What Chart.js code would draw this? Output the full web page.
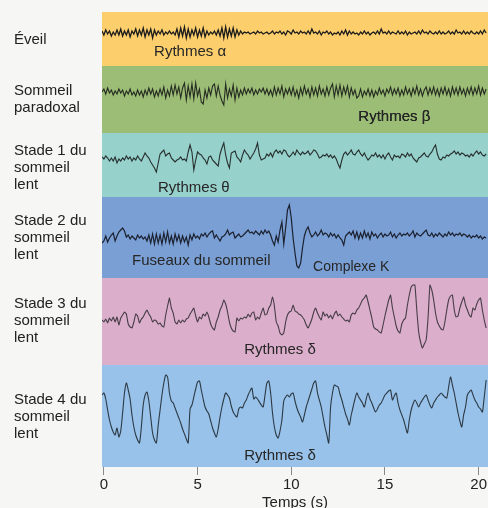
<!DOCTYPE html>
<html lang="fr">
<head>
<meta charset="UTF-8">
<title>Stades du sommeil – EEG</title>
<style>
  html, body { margin: 0; padding: 0; background: #f6f6f4; }
  #wrap { width: 488px; height: 508px; }
</style>
</head>
<body>
<div id="wrap"><canvas id="eeg" width="488" height="508"></canvas></div>

<script src="https://cdn.jsdelivr.net/npm/chart.js"></script>
<script>
// sampling of the traces (s)
const T0 = -0.1, DT = 0.1;
const X_TICKS = [0, 5, 10, 15, 20];

const ROW_LABELS = [
  'Éveil',
  ['Sommeil', 'paradoxal'],
  ['Stade 1 du', 'sommeil', 'lent'],
  ['Stade 2 du', 'sommeil', 'lent'],
  ['Stade 3 du', 'sommeil', 'lent'],
  ['Stade 4 du', 'sommeil', 'lent']
];

// amplitudes, one value every 0.1 s from -0.1 s
const EVEIL = [
  2,-2,3,-1,2,-3,1,-2,3,-2,  4,-3,2,-2,3,-4,2,-1,4,-3,
  3,-2,5,-4,3,-2,4,-5,3,-2,  2,-1,3,-2,1,-1,2,-1,1,-2,
  4,-4,5,-3,6,-5,4,-4,3,-2,  5,-4,3,-3,5,-4,2,-2,1,-1,
  2,-2,3,-3,5,-5,6,-4,4,-3,  5,-4,3,-2,2,-1,1,0,1,-1,
  0,1,-1,2,0,1,-1,0,1,-1,    0,2,-1,1,0,2,-1,1,-2,2,
  1,-1,3,0,1,-1,2,0,1,-1,    2,-1,4,0,1,-1,2,-2,1,0,
  2,-1,1,-2,0,-1,1,-2,2,-1,  3,-2,2,-1,1,-1,0,-2,1,-1,
  2,-1,1,-2,0,1,-1,2,-1,4,   0,1,-1,2,-1,1,0,-1,2,-1,
  1,-1,2,-2,1,-1,0,1,-1,2,   -1,3,0,1,-1,2,0,-1,1,-1,
  2,-1,1,-1,0,2,-1,1,-1,3,   0,1,-1,2,-1,1,-1,2,0,-1,
  1,-1,2,-1,3,0
];

const PARADOXAL = [
  0,3,-2,4,-1,2,-3,1,-2,3,    -1,2,-4,1,-2,3,-3,0,-4,2,
  -3,1,-5,2,-3,4,-2,3,-5,1,   -4,3,-3,5,-6,2,-4,6,-3,7,
  -2,5,-6,4,9,-8,6,-5,8,-7,   9,-4,3,-10,-12,2,-6,4,-3,6,
  8,-4,6,-3,-9,-13,8,-6,3,-4, 7,-8,4,-5,2,-3,4,-2,3,-1,
  4,-3,2,-2,3,0,4,-2,3,-3,    2,-4,5,-3,4,-2,6,-5,3,-2,
  4,-3,5,-4,2,-6,4,-3,6,-2,   3,-5,5,-3,4,-4,6,-2,3,-4,
  5,-3,4,8,-5,6,-3,7,-4,5,    -2,6,-5,4,-3,2,-6,-4,3,-5,
  1,-3,3,-4,2,-5,1,-3,4,-2,   2,-4,3,-1,5,-3,3,-2,4,-4,
  2,-3,5,-2,3,-4,4,-2,6,-3,   3,-4,2,5,-3,4,-2,5,-3,3,
  -4,4,-2,5,-3,3,-4,5,-2,4,   -3,5,-2,3,-4,4,-2,5,-3,4,
  -2,6,-3,4,-2,3
];

const STADE1 = [
  3,1,4,2,-1,2,-1,3,-3,1,     -1,2,0,4,1,3,-1,2,0,4,
  1,-1,3,7,4,2,-2,-5,-8,-12,  -3,6,8,10,4,6,7,2,0,-2,
  0,1,3,0,1,-1,8,15,8,-10,    0,8,6,5,2,0,-4,3,4,0,
  -2,-4,-6,6,12,17,5,-3,-8,7, 8,9,3,1,-2,5,10,7,5,1,
  4,7,11,17,5,0,1,2,6,4,      7,3,8,10,7,9,6,10,9,5,
  3,5,8,5,10,7,5,8,6,7,       9,5,7,10,9,6,2,3,5,4,
  6,3,5,2,4,1,-4,-8,0,6,      8,5,7,10,6,5,8,10,6,4,
  7,3,0,2,5,4,7,3,5,2,        5,1,5,7,3,0,5,3,4,2,
  6,5,3,7,4,6,2,0,-2,2,       3,5,7,4,3,6,8,12,15,6,
  1,0,3,2,5,4,6,7,9,6,        8,5,7,6,4,5,3,6,4,7,
  9,6,8,5,4,6
];

const STADE2 = [
  -5,-3,2,-4,0,3,5,-3,2,6,    8,10,7,1,3,-1,2,0,-2,3,
  0,2,-1,1,-3,3,-5,4,-6,4,    -5,3,-6,5,-4,6,-5,2,-6,4,
  -3,3,-5,2,-4,1,-7,3,-2,4,   0,2,-1,4,2,5,1,4,6,7,
  0,3,0,-3,1,2,4,8,3,5,       6,0,2,4,1,2,4,6,8,5,
  6,4,7,5,3,7,4,8,5,7,        3,-3,-7,2,-4,8,16,-6,10,28,
  33,20,0,-15,-28,-30,-25,-10,2,8,  11,5,1,3,6,2,4,8,3,5,
  4,1,5,2,4,0,3,0,-2,-7,      2,4,6,3,7,0,6,-1,5,0,
  7,1,5,-1,6,2,4,0,3,5,       1,4,2,3,6,1,4,0,3,5,
  2,4,3,5,2,4,7,1,5,3,        2,4,6,8,3,2,5,1,4,2,
  5,3,1,4,2,6,3,5,2,4,        3,5,2,4,3,1,3,0,2,1,
  3,0,2,-1,1,0
];

const STADE3 = [
  0,-2,1,-3,2,-1,3,-2,3,-5,      2,5,8,6,-4,-7,-8,-2,6,4,
  -3,1,3,7,10,6,3,-2,0,-1,       -4,-3,-6,-7,5,14,22,12,7,-2,
  -4,0,-3,0,-2,1,2,6,9,12,       4,-2,3,1,6,4,8,3,-4,-8,
  -10,-2,3,10,14,20,16,8,-2,-8,  -11,-12,2,-1,2,1,3,2,6,3,
  7,8,0,3,1,7,12,5,6,12,         15,23,14,-2,-6,-13,-15,-13,-2,5,
  8,9,15,9,8,6,5,3,0,-5,         -8,-4,1,8,12,7,3,0,8,4,
  6,2,5,1,6,9,4,6,3,1,           -1,0,-2,5,7,6,10,12,16,20,
  22,25,18,10,2,-7,-9,-10,-12,-13,  -5,4,12,20,25,12,3,-6,-11,-13,
  -4,0,2,15,25,33,35,35,10,-12,  -22,-28,-24,-20,2,35,30,20,7,-2,
  -6,-9,-10,-2,10,20,24,25,10,3, 4,12,18,23,15,10,5,3,12,10,
  16,20,22,10,0,-8
];

const STADE4 = [
  10,12,6,-5,-15,-22,-27,-30,-23,-32,   -26,-8,12,22,15,6,-10,-22,-30,-35,
  -38,-22,0,10,13,4,-12,-28,-35,-38,    -20,-5,10,22,30,28,12,4,2,-3,
  -8,-13,-18,-24,-29,-34,-38,-4,0,8,    16,23,24,15,6,-2,-6,-9,-16,-23,
  -28,-32,-24,-12,-2,6,12,10,7,-1,      -7,-10,-12,-4,-2,-3,2,5,10,14,
  17,6,8,6,3,0,-2,10,22,24,             12,-8,-22,-30,-33,-26,-15,4,8,10,
  8,11,12,4,-3,-8,-12,-17,-10,-2,       4,10,16,22,24,12,5,-2,-12,-22,
  -30,-38,-2,12,20,19,18,11,5,-2,       -9,-14,-20,-10,-2,6,12,8,5,2,
  -2,6,12,6,2,-3,-7,-4,0,2,             6,10,12,14,15,5,9,12,2,-5,
  -10,-15,-22,-28,-15,-5,1,5,2,-2,      2,5,8,10,5,0,-3,2,5,8,
  10,12,10,8,7,18,28,20,12,2,           -8,-16,-22,-10,-2,10,13,15,10,5,
  2,-2,-4,-7,8,25
];

const TRACES = [EVEIL, PARADOXAL, STADE1, STADE2, STADE3, STADE4];

const NOTE_TEXT = ['Rythmes α', 'Rythmes β', 'Rythmes β', 'Rythmes θ',
  'Fuseaux du sommeil', 'Complexe K', 'Rythmes δ', 'Rythmes δ'];

// layout (y in pixels above the plot bottom)
const BASELINE = [434, 375, 307, 229, 147, 62];
const LABEL_Y = [427, 368, 299, 229, 146, 50];
const BAND_EDGES = [455, 401, 334, 270, 189, 102, 0];
const BAND_COLORS = ['#fccf6c', '#9bbd75', '#97d1cb', '#7a9fd4', '#dbaecb', '#98c2e9'];
const LINE_COLORS = ['#1c1c1c', '#262b22', '#27302f', '#1c2130', '#463d46', '#2c3945'];
const LINE_WIDTHS = [1.3, 1.1, 1.1, 1.2, 1.1, 1.1];
const LINE_TENSION = [0, 0, 0, 0, 0.1, 0.25];
const NOTE_T = [4.6, 15.5, 15.5, 4.8, 5.2, 13.2, 9.4, 9.4];
const NOTE_Y = [415, 350, 350, 279, 206, 200, 117, 11];
const NOTE_SIZE = [15, 15, 15, 15, 15, 14, 15, 15];

const FONT = '"Liberation Sans", Arial, Helvetica, sans-serif';

const bands = {
  id: 'bands',
  beforeDatasetsDraw(chart) {
    const { ctx, chartArea: a, scales: { y } } = chart;
    ctx.save();
    BAND_COLORS.forEach((c, i) => {
      const top = y.getPixelForValue(BAND_EDGES[i]);
      const bot = y.getPixelForValue(BAND_EDGES[i + 1]);
      ctx.fillStyle = c;
      ctx.fillRect(a.left, top, a.right - a.left, bot - top);
    });
    ctx.restore();
  }
};

const notes = {
  id: 'notes',
  afterDatasetsDraw(chart) {
    const { ctx, scales: { x, y } } = chart;
    ctx.save();
    ctx.fillStyle = '#262626';
    ctx.textAlign = 'center';
    ctx.textBaseline = 'middle';
    NOTE_TEXT.forEach((t, i) => {
      ctx.font = NOTE_SIZE[i] + 'px ' + FONT;
      ctx.fillText(t, x.getPixelForValue(NOTE_T[i]), y.getPixelForValue(NOTE_Y[i]));
    });
    ctx.restore();
  }
};

// the row labels sit inside the plot height, so drop the edge padding the scale asks for
function noEdgePadding(s) {
  s.paddingTop = 0;
  s.paddingBottom = 0;
  s.paddingLeft = 0;
  s.paddingRight = 0;
}

new Chart(document.getElementById('eeg'), {
  type: 'line',
  data: {
    datasets: TRACES.map((tr, k) => ({
      label: 'trace' + k,
      data: tr.map((v, i) => ({ x: T0 + i * DT, y: BASELINE[k] + v })),
      borderColor: LINE_COLORS[k],
      borderWidth: LINE_WIDTHS[k],
      pointRadius: 0,
      tension: LINE_TENSION[k],
      fill: false
    }))
  },
  options: {
    responsive: false,
    animation: false,
    layout: { padding: { left: 14, top: 12, right: 0, bottom: -4 } },
    plugins: { legend: { display: false }, tooltip: { enabled: false } },
    scales: {
      x: {
        type: 'linear',
        min: -0.1,
        max: 20.5,
        afterBuildTicks: s => { s.ticks = X_TICKS.map(v => ({ value: v })); },
        afterFit: s => { s.height = 45; noEdgePadding(s); },
        border: { display: false },
        grid: { drawOnChartArea: false, drawTicks: true, tickLength: 8, color: '#8a8a8a' },
        ticks: { padding: 1, maxRotation: 0, color: '#222', font: { family: FONT, size: 15 } },
        title: { display: true, text: 'Temps (s)', color: '#222', padding: 0, font: { family: FONT, size: 15 } }
      },
      y: {
        min: 0,
        max: 455,
        afterBuildTicks: s => { s.ticks = LABEL_Y.map(v => ({ value: v })); },
        afterFit: s => { s.width = 88; noEdgePadding(s); },
        grid: { display: false },
        border: { display: false },
        ticks: {
          autoSkip: false,
          crossAlign: 'far',
          color: '#222',
          font: { family: FONT, size: 15, lineHeight: 1.15 },
          callback: (v, i) => ROW_LABELS[i]
        }
      }
    }
  },
  plugins: [bands, notes]
});
</script>
</body>
</html>
